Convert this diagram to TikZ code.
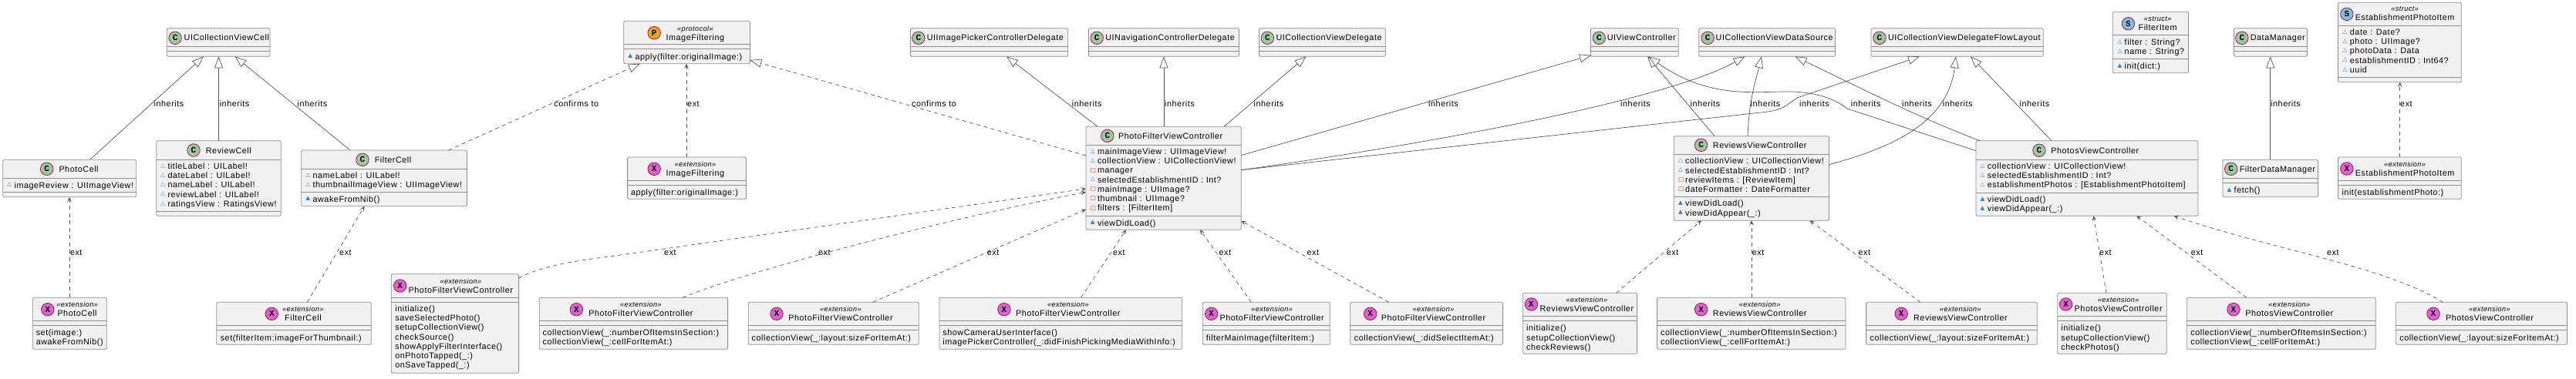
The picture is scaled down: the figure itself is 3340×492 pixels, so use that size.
\documentclass[tikz,border=0pt]{standalone}
\usepackage{fontspec}
\usepackage{xcolor}
\usetikzlibrary{arrows.meta,fit}
\setmainfont{Liberation Sans}[LetterSpace=5]
\newfontfamily\spotfont{Liberation Mono}
\newfontfamily\symfont{DejaVu Sans}
\definecolor{boxfill}{HTML}{F1F1F1}
\definecolor{boxline}{HTML}{8E8E8E}
\definecolor{spotline}{HTML}{A80036}
\definecolor{linkgray}{HTML}{555555}
\definecolor{fieldblue}{HTML}{3F7FBF}
\definecolor{privred}{HTML}{C82930}
\newcommand{\fieldmark}{\makebox[9.2pt][l]{\raisebox{2.2pt}{\textcolor{fieldblue}{\fontsize{7.5}{7.5}\symfont\bfseries △}}}}
\newcommand{\methodmark}{\makebox[9.2pt][l]{\raisebox{2.2pt}{\textcolor{fieldblue}{\fontsize{7.5}{7.5}\symfont\bfseries ▲}}}}
\newcommand{\privmark}{\makebox[9.2pt][l]{\raisebox{1.8pt}{\textcolor{privred}{\fontsize{7.5}{7.5}\symfont\bfseries □}}}}
\newcommand{\seprules}[3]{%
  \draw[seprule] ([yshift=-#2]#1.north west) -- ([yshift=-#2]#1.north east);
  \draw[seprule] ([yshift=-#3]#1.north west) -- ([yshift=-#3]#1.north east);}
\tikzset{
  umlbox/.style={draw=boxline,fill=boxfill,line width=0.8pt,rounded corners=1.5pt,inner sep=0pt,outer sep=0pt},
  seprule/.style={boxline,line width=0.9pt},
  spotnode/.style={circle,draw=spotline,line width=0.7pt,minimum size=16.5pt,inner sep=0pt,font=\fontsize{11}{11}\spotfont\bfseries},
  cspot/.style={spotnode,fill={rgb,255:red,156;green,200;blue,162}},
  xspot/.style={spotnode,fill={rgb,255:red,220;green,100;blue,208}},
  pspot/.style={spotnode,fill={rgb,255:red,232;green,168;blue,32}},
  sspot/.style={spotnode,fill={rgb,255:red,120;green,195;blue,225}},
  titletext/.style={anchor=base west,inner sep=0pt,font=\fontsize{10.8}{12.25}\selectfont},
  stereotext/.style={anchor=base,inner sep=0pt,font=\fontsize{9.1}{10}\selectfont\itshape},
  memberlist/.style={anchor=north west,align=left,inner sep=0pt,font=\fontsize{10.8}{12.25}\selectfont,execute at begin node=\strut},
  elabel/.style={anchor=base west,inner sep=0pt,font=\fontsize{10.8}{12.25}\selectfont},
  inh/.style={linkgray,line width=0.7pt,-{Triangle[length=15pt,width=11pt,fill=white]}},
  conf/.style={inh,dash pattern=on 5pt off 4.5pt},
  extlink/.style={linkgray,line width=0.7pt,dash pattern=on 5pt off 4.5pt,-{Stealth[length=6.5pt,width=5.8pt,inset=3pt]}},
}
\begin{document}
\begin{tikzpicture}[x=1pt,y=-1pt]
  \useasboundingbox (0,0) rectangle (3340,492);
  % base classes along the top
  \node[umlbox,fit={(216.3,36.7)(350,73.3)}] (cvCell) {};
  \node[umlbox,fit={(1180.5,36.7)(1384.8,73.3)}] (pickerDelegate) {};
  \node[umlbox,fit={(1411.4,36.7)(1606.5,73.3)}] (navDelegate) {};
  \node[umlbox,fit={(1632.5,36.7)(1796.3,73.3)}] (cvDelegate) {};
  \node[umlbox,fit={(2062.5,36.7)(2176.3,73.3)}] (viewCtrl) {};
  \node[umlbox,fit={(2202.8,36.7)(2379.5,73.3)}] (dataSource) {};
  \node[umlbox,fit={(2426,36.7)(2649.3,73.3)}] (flowLayout) {};
  \node[umlbox,fit={(2896.5,36.7)(2991.4,73.3)}] (dataMgr) {};
  \node[cspot] (cvCellS) at (227.1,49.3) {C};
  \node[cspot] (pickerDelegateS) at (1190.8,49.3) {C};
  \node[cspot] (navDelegateS) at (1422.2,49.3) {C};
  \node[cspot] (cvDelegateS) at (1643.4,49.3) {C};
  \node[cspot] (viewCtrlS) at (2073.3,49.3) {C};
  \node[cspot] (dataSourceS) at (2214.2,49.3) {C};
  \node[cspot] (flowLayoutS) at (2437,49.3) {C};
  \node[cspot] (dataMgrS) at (2906.8,49.3) {C};
  \node[titletext] (cvCellT) at (238.5,53) {UICollectionViewCell};
  \node[titletext] (pickerDelegateT) at (1201.6,53) {UIImagePickerControllerDelegate};
  \node[titletext] (navDelegateT) at (1433.1,53) {UINavigationControllerDelegate};
  \node[titletext] (cvDelegateT) at (1654.3,53) {UICollectionViewDelegate};
  \node[titletext] (viewCtrlT) at (2083.6,53) {UIViewController};
  \node[titletext] (dataSourceT) at (2224.5,53) {UICollectionViewDataSource};
  \node[titletext] (flowLayoutT) at (2447.8,53) {UICollectionViewDelegateFlowLayout};
  \node[titletext] (dataMgrT) at (2917.6,53) {DataManager};
  \seprules{cvCell}{24}{30}
  \seprules{pickerDelegate}{24}{30}
  \seprules{navDelegate}{24}{30}
  \seprules{cvDelegate}{24}{30}
  \seprules{viewCtrl}{24}{30}
  \seprules{dataSource}{24}{30}
  \seprules{flowLayout}{24}{30}
  \seprules{dataMgr}{24}{30}
  % cells
  \node[umlbox,fit={(3.8,207.3)(176.7,255.7)}] (photoCell) {};
  \node[cspot] (photoCellS) at (60.7,219.3) {C};
  \node[titletext] (photoCellT) at (76.3,223.3) {PhotoCell};
  \seprules{photoCell}{24}{42}
  \node[memberlist] (photoCellF) at (9.2,235.4) {\fieldmark imageReview : UIImageView!};
  \node[umlbox,fit={(202.7,182.7)(364.2,280.3)}] (reviewCell) {};
  \node[cspot] (reviewCellS) at (251,195) {C};
  \node[titletext] (reviewCellT) at (266.7,199) {ReviewCell};
  \seprules{reviewCell}{24.6}{91.3}
  \node[memberlist] (reviewCellF) at (208.1,211.4) {\fieldmark titleLabel : UILabel!\\\fieldmark dateLabel : UILabel!\\\fieldmark nameLabel : UILabel!\\\fieldmark reviewLabel : UILabel!\\\fieldmark ratingsView : RatingsView!};
  \node[umlbox,fit={(390.8,195)(605.4,267.7)}] (filterCell) {};
  \node[cspot] (filterCellS) at (470,207.3) {C};
  \node[titletext] (filterCellT) at (485.6,211.3) {FilterCell};
  \seprules{filterCell}{24}{54.3}
  \node[memberlist] (filterCellF) at (396.2,223.4) {\fieldmark nameLabel : UILabel!\\\fieldmark thumbnailImageView : UIImageView!};
  \node[memberlist] (filterCellM) at (396.2,253.4) {\methodmark awakeFromNib()};
  \node[umlbox,fit={(42.3,386.3)(138.2,453.3)}] (extPhotoCell) {};
  \node[xspot] (extPhotoCellS) at (61.8,401.7) {X};
  \node[titletext] (extPhotoCellT) at (74.3,410.7) {PhotoCell};
  \node[stereotext] (extPhotoCellE) at ([yshift=12]extPhotoCellT.base) {«extension»};
  \seprules{extPhotoCell}{30.4}{36}
  \node[memberlist] (extPhotoCellM) at (46.6,427.6) {set(image:)\\awakeFromNib()};
  \node[umlbox,fit={(280.8,392.3)(481.3,447.3)}] (extFilterCell) {};
  \node[xspot] (extFilterCellS) at (352.3,407.3) {X};
  \node[titletext] (extFilterCellT) at (369,416.7) {FilterCell};
  \node[stereotext] (extFilterCellE) at ([yshift=12]extFilterCellT.base) {«extension»};
  \seprules{extFilterCell}{30.4}{36}
  \node[memberlist] (extFilterCellM) at (285.6,433.4) {set(filterItem:imageForThumbnail:)};
  % image filtering
  \node[umlbox,fit={(808.7,27.3)(972.4,82.7)}] (imgFilter) {};
  \node[pspot] (imgFilterS) at (848.2,42.7) {P};
  \node[titletext] (imgFilterT) at (863.4,52.4) {ImageFiltering};
  \node[stereotext] (imgFilterE) at ([yshift=12]imgFilterT.base) {«protocol»};
  \seprules{imgFilter}{30}{36}
  \node[memberlist] (imgFilterM) at (814.1,68.4) {\methodmark apply(filter:originalImage:)};
  \node[umlbox,fit={(813.6,204)(967.5,258.3)}] (extImgFilter) {};
  \node[xspot] (extImgFilterS) at (848.2,219.3) {X};
  \node[titletext] (extImgFilterT) at (863.4,228.4) {ImageFiltering};
  \node[stereotext] (extImgFilterE) at ([yshift=12]extImgFilterT.base) {«extension»};
  \seprules{extImgFilter}{30.3}{36.3}
  \node[memberlist] (extImgFilterM) at (817.9,244.8) {apply(filter:originalImage:)};
  % photo filter view controller
  \node[umlbox,fit={(1408,164.3)(1609.2,298.3)}] (photoFilter) {};
  \node[cspot] (photoFilterS) at (1435.8,176.3) {C};
  \node[titletext] (photoFilterT) at (1449.9,180.3) {PhotoFilterViewController};
  \seprules{photoFilter}{24}{116}
  \node[memberlist] (photoFilterF) at (1413.6,192.4) {\fieldmark mainImageView : UIImageView!\\\fieldmark collectionView : UICollectionView!\\\privmark manager\\\fieldmark selectedEstablishmentID : Int?\\\privmark mainImage : UIImage?\\\privmark thumbnail : UIImage?\\\privmark filters : [FilterItem]};
  \node[memberlist] (photoFilterM) at (1413.6,284.4) {\methodmark viewDidLoad()};
  \node[umlbox,fit={(507.3,355.7)(672.6,484.3)}] (extPhotoFilterA) {};
  \node[xspot] (extPhotoFilterAS) at (518.7,371) {X};
  \node[titletext] (extPhotoFilterAT) at (529.5,380) {PhotoFilterViewController};
  \node[stereotext] (extPhotoFilterAE) at ([yshift=12]extPhotoFilterAT.base) {«extension»};
  \seprules{extPhotoFilterA}{31}{36.6}
  \node[memberlist] (extPhotoFilterAM) at (512.2,396.4) {initialize()\\saveSelectedPhoto()\\setupCollectionView()\\checkSource()\\showApplyFilterInterface()\\onPhotoTapped(\_:)\\onSaveTapped(\_:)};
  \node[umlbox,fit={(699.2,386.3)(943.6,453.3)}] (extPhotoFilterB) {};
  \node[xspot] (extPhotoFilterBS) at (747.4,401.7) {X};
  \node[titletext] (extPhotoFilterBT) at (763.1,410.7) {PhotoFilterViewController};
  \node[stereotext] (extPhotoFilterBE) at ([yshift=12]extPhotoFilterBT.base) {«extension»};
  \seprules{extPhotoFilterB}{30.4}{36}
  \node[memberlist] (extPhotoFilterBM) at (703.5,427.6) {collectionView(\_:numberOfItemsInSection:)\\collectionView(\_:cellForItemAt:)};
  \node[umlbox,fit={(970.2,392.3)(1191.3,447.3)}] (extPhotoFilterC) {};
  \node[xspot] (extPhotoFilterCS) at (1007,407.3) {X};
  \node[titletext] (extPhotoFilterCT) at (1022.2,416.7) {PhotoFilterViewController};
  \node[stereotext] (extPhotoFilterCE) at ([yshift=12]extPhotoFilterCT.base) {«extension»};
  \seprules{extPhotoFilterC}{30.4}{36}
  \node[memberlist] (extPhotoFilterCM) at (974.5,433.4) {collectionView(\_:layout:sizeForItemAt:)};
  \node[umlbox,fit={(1217.9,386.3)(1532.8,453.3)}] (extPhotoFilterD) {};
  \node[xspot] (extPhotoFilterDS) at (1301.9,401.7) {X};
  \node[titletext] (extPhotoFilterDT) at (1317,410.7) {PhotoFilterViewController};
  \node[stereotext] (extPhotoFilterDE) at ([yshift=12]extPhotoFilterDT.base) {«extension»};
  \seprules{extPhotoFilterD}{30.4}{36}
  \node[memberlist] (extPhotoFilterDM) at (1222.2,427.6) {showCameraUserInterface()\\imagePickerController(\_:didFinishPickingMediaWithInfo:)};
  \node[umlbox,fit={(1559.3,392.3)(1724.3,447.3)}] (extPhotoFilterE) {};
  \node[xspot] (extPhotoFilterES) at (1570.7,407.3) {X};
  \node[titletext] (extPhotoFilterET) at (1581.3,416.7) {PhotoFilterViewController};
  \node[stereotext] (extPhotoFilterEE) at ([yshift=12]extPhotoFilterET.base) {«extension»};
  \seprules{extPhotoFilterE}{30.4}{36}
  \node[memberlist] (extPhotoFilterEM) at (1563.7,433.4) {filterMainImage(filterItem:)};
  \node[umlbox,fit={(1750.7,392.3)(1948.6,447.3)}] (extPhotoFilterF) {};
  \node[xspot] (extPhotoFilterFS) at (1776.7,407.3) {X};
  \node[titletext] (extPhotoFilterFT) at (1790.7,416.7) {PhotoFilterViewController};
  \node[stereotext] (extPhotoFilterFE) at ([yshift=12]extPhotoFilterFT.base) {«extension»};
  \seprules{extPhotoFilterF}{30.4}{36}
  \node[memberlist] (extPhotoFilterFM) at (1755.7,433.4) {collectionView(\_:didSelectItemAt:)};
  % reviews view controller
  \node[umlbox,fit={(2170.3,176.7)(2371.4,286.3)}] (reviewsCtrl) {};
  \node[cspot] (reviewsCtrlS) at (2205.6,188.3) {C};
  \node[titletext] (reviewsCtrlT) at (2220.7,192.3) {ReviewsViewController};
  \seprules{reviewsCtrl}{24}{79}
  \node[memberlist] (reviewsCtrlF) at (2175.8,204.8) {\fieldmark collectionView : UICollectionView!\\\fieldmark selectedEstablishmentID : Int?\\\privmark reviewItems : [ReviewItem]\\\privmark dateFormatter : DateFormatter};
  \node[memberlist] (reviewsCtrlM) at (2175.8,259.8) {\methodmark viewDidLoad()\\\methodmark viewDidAppear(\_:)};
  \node[umlbox,fit={(1974.7,380.3)(2122.6,459.3)}] (extReviewsA) {};
  \node[xspot] (extReviewsAS) at (1985.5,395) {X};
  \node[titletext] (extReviewsAT) at (1996.3,404.7) {ReviewsViewController};
  \node[stereotext] (extReviewsAE) at ([yshift=12]extReviewsAT.base) {«extension»};
  \seprules{extReviewsA}{30.4}{36.4}
  \node[memberlist] (extReviewsAM) at (1979,421.8) {initialize()\\setupCollectionView()\\checkReviews()};
  \node[umlbox,fit={(2148.6,386.3)(2393,453.3)}] (extReviewsB) {};
  \node[xspot] (extReviewsBS) at (2205.6,401.7) {X};
  \node[titletext] (extReviewsBT) at (2220.7,410.7) {ReviewsViewController};
  \node[stereotext] (extReviewsBE) at ([yshift=12]extReviewsBT.base) {«extension»};
  \seprules{extReviewsB}{30.4}{36}
  \node[memberlist] (extReviewsBM) at (2153,427.6) {collectionView(\_:numberOfItemsInSection:)\\collectionView(\_:cellForItemAt:)};
  \node[umlbox,fit={(2419.6,392.3)(2641.2,447.3)}] (extReviewsC) {};
  \node[xspot] (extReviewsCS) at (2465.2,407.3) {X};
  \node[titletext] (extReviewsCT) at (2480.9,416.7) {ReviewsViewController};
  \node[stereotext] (extReviewsCE) at ([yshift=12]extReviewsCT.base) {«extension»};
  \seprules{extReviewsC}{30.4}{36}
  \node[memberlist] (extReviewsCM) at (2424.5,433.4) {collectionView(\_:layout:sizeForItemAt:)};
  % photos view controller
  \node[umlbox,fit={(2562,182.7)(2849.9,280.3)}] (photosCtrl) {};
  \node[cspot] (photosCtrlS) at (2643.9,195.3) {C};
  \node[titletext] (photosCtrlT) at (2659.1,199.3) {PhotosViewController};
  \seprules{photosCtrl}{24.6}{67.3}
  \node[memberlist] (photosCtrlF) at (2567.5,211.4) {\fieldmark collectionView : UICollectionView!\\\fieldmark selectedEstablishmentID : Int?\\\fieldmark establishmentPhotos : [EstablishmentPhotoItem]};
  \node[memberlist] (photosCtrlM) at (2567.5,254.4) {\methodmark viewDidLoad()\\\methodmark viewDidAppear(\_:)};
  \node[umlbox,fit={(2667.8,380.3)(2809.2,459.3)}] (extPhotosA) {};
  \node[xspot] (extPhotosAS) at (2678.6,395) {X};
  \node[titletext] (extPhotosAT) at (2689.5,404.7) {PhotosViewController};
  \node[stereotext] (extPhotosAE) at ([yshift=12]extPhotosAT.base) {«extension»};
  \seprules{extPhotosA}{30.4}{36.4}
  \node[memberlist] (extPhotosAM) at (2672.1,421.8) {initialize()\\setupCollectionView()\\checkPhotos()};
  \node[umlbox,fit={(2835.3,386.3)(3080.2,453.3)}] (extPhotosB) {};
  \node[xspot] (extPhotosBS) at (2896,401.7) {X};
  \node[titletext] (extPhotosBT) at (2911.1,410.7) {PhotosViewController};
  \node[stereotext] (extPhotosBE) at ([yshift=12]extPhotosBT.base) {«extension»};
  \seprules{extPhotosB}{30.4}{36}
  \node[memberlist] (extPhotosBM) at (2840.1,427.6) {collectionView(\_:numberOfItemsInSection:)\\collectionView(\_:cellForItemAt:)};
  \node[umlbox,fit={(3106.3,392.3)(3328.5,447.3)}] (extPhotosC) {};
  \node[xspot] (extPhotosCS) at (3155,407.3) {X};
  \node[titletext] (extPhotosCT) at (3170.8,416.7) {PhotosViewController};
  \node[stereotext] (extPhotosCE) at ([yshift=12]extPhotosCT.base) {«extension»};
  \seprules{extPhotosC}{30.4}{36}
  \node[memberlist] (extPhotosCM) at (3111.1,433.4) {collectionView(\_:layout:sizeForItemAt:)};
  % structs and data manager
  \node[umlbox,fit={(2739.3,15.3)(2837.4,94.7)}] (filterItem) {};
  \node[sspot] (filterItemS) at (2759.4,30.7) {S};
  \node[titletext] (filterItemT) at (2772.4,40) {FilterItem};
  \node[stereotext] (filterItemE) at ([yshift=12]filterItemT.base) {«struct»};
  \seprules{filterItem}{30}{61}
  \node[memberlist] (filterItemF) at (2745.3,50.4) {\fieldmark filter : String?\\\fieldmark name : String?};
  \node[memberlist] (filterItemM) at (2745.3,80.7) {\methodmark init(dict:)};
  \node[umlbox,fit={(2881.9,207.3)(3005.4,255.7)}] (filterMgr) {};
  \node[cspot] (filterMgrS) at (2892.7,219.3) {C};
  \node[titletext] (filterMgrT) at (2903.6,223.3) {FilterDataManager};
  \seprules{filterMgr}{24}{30}
  \node[memberlist] (filterMgrM) at (2887.3,241.8) {\methodmark fetch()};
  \node[umlbox,fit={(3031.5,3.3)(3191.3,106.7)}] (estItem) {};
  \node[sspot] (estItemS) at (3042.8,18.3) {S};
  \node[titletext] (estItemT) at (3053.7,27) {EstablishmentPhotoItem};
  \node[stereotext] (estItemE) at ([yshift=12]estItemT.base) {«struct»};
  \seprules{estItem}{30}{97.4}
  \node[memberlist] (estItemF) at (3037.5,37.4) {\fieldmark date : Date?\\\fieldmark photo : UIImage?\\\fieldmark photoData : Data\\\fieldmark establishmentID : Int64?\\\fieldmark uuid};
  \node[umlbox,fit={(3031.5,204)(3191.3,258.3)}] (extEstItem) {};
  \node[xspot] (extEstItemS) at (3042.8,219) {X};
  \node[titletext] (extEstItemT) at (3053.7,228.4) {EstablishmentPhotoItem};
  \node[stereotext] (extEstItemE) at ([yshift=12]extEstItemT.base) {«extension»};
  \seprules{extEstItem}{30.3}{36.3}
  \node[memberlist] (extEstItemM) at (3036.3,244.8) {init(establishmentPhoto:)};
  % inherits
  \draw[inh] ([xshift=112.7]photoCell.north west) -- ([xshift=47.7]cvCell.south west);
  \draw[inh] ([xshift=80.8]reviewCell.north west) -- ([xshift=67.2]cvCell.south west);
  \draw[inh] ([xshift=63.2]filterCell.north west) -- ([xshift=88.2]cvCell.south west);
  \draw[inh] ([xshift=15]photoFilter.north west) -- ([xshift=124.5]pickerDelegate.south west);
  \draw[inh] ([xshift=101]photoFilter.north west) -- ([xshift=97.6]navDelegate.south west);
  \draw[inh] ([xshift=179]photoFilter.north west) -- ([xshift=60.9]cvDelegate.south west);
  \draw[inh] ([yshift=-37.4]photoFilter.north east) -- ([xshift=0.5,yshift=1.6]viewCtrl.south west);
  \draw[inh] ([yshift=-56.4]photoFilter.north east) .. controls (1900,180) and (2170,125) .. ([xshift=59.7]dataSource.south west);
  \draw[inh] ([yshift=-56.4]photoFilter.north east) -- (2292,145) .. controls (2312,142) and (2316,137) .. (2330,127) -- ([xshift=63]flowLayout.south west);
  \draw[inh] ([xshift=52.7]reviewsCtrl.north west) -- ([xshift=73.5]viewCtrl.south west);
  \draw[inh] ([xshift=95.7]reviewsCtrl.north west) .. controls (2268,130) and (2275,110) .. ([xshift=81.2]dataSource.south west);
  \draw[inh] ([yshift=-37]reviewsCtrl.north east) .. controls (2440,195) and (2525,165) .. ([xshift=110]flowLayout.south west);
  \draw[inh] ([yshift=-13]photosCtrl.north west) -- (2395,141) .. controls (2375,125) and (2345,118) .. (2310,119) .. controls (2265,120) and (2210,125) .. ([xshift=75]viewCtrl.south west);
  \draw[inh] ([xshift=5]photosCtrl.north west) .. controls (2490,153) and (2440,128) .. ([xshift=124.7]dataSource.south west);
  \draw[inh] ([xshift=98]photosCtrl.north west) -- ([xshift=129]flowLayout.south west);
  \draw[inh] ([xshift=61.8]filterMgr.north west) -- ([xshift=47.2]dataMgr.south west);
  % confirms to
  \draw[conf] ([xshift=190.7]filterCell.north west) -- ([xshift=21.3]imgFilter.south west);
  \draw[conf] ([yshift=-37.7]photoFilter.north west) -- ([yshift=4.7]imgFilter.south east);
  % extensions
  \draw[extlink] ([xshift=47.7]extPhotoCell.north west) -- ([xshift=86.2]photoCell.south west);
  \draw[extlink] ([xshift=117.6]extFilterCell.north west) -- ([xshift=81.8]filterCell.south west);
  \draw[extlink] ([xshift=76.4]extImgFilter.north west) -- ([xshift=81.3]imgFilter.south west);
  \draw[extlink] ([yshift=-5.3]extPhotoFilterA.north east) .. controls (705,343) and (760,337) .. (800,331.7) -- ([yshift=-80.7]photoFilter.north west);
  \draw[extlink] ([xshift=185.8]extPhotoFilterB.north west) .. controls (960,355) and (1200,290) .. ([yshift=-85]photoFilter.north west);
  \draw[extlink] ([xshift=161.5]extPhotoFilterC.north west) -- ([yshift=-107.4]photoFilter.north west);
  \draw[extlink] ([xshift=183.7]extPhotoFilterD.north west) -- ([xshift=52]photoFilter.south west);
  \draw[extlink] ([xshift=63]extPhotoFilterE.north west) -- ([xshift=148]photoFilter.south west);
  \draw[extlink] ([xshift=50]extPhotoFilterF.north west) -- ([yshift=11.6]photoFilter.south east);
  \draw[extlink] ([xshift=120.8]extReviewsA.north west) -- ([xshift=35.7]reviewsCtrl.south west);
  \draw[extlink] ([xshift=122.4]extReviewsB.north west) -- ([xshift=100.7]reviewsCtrl.south west);
  \draw[extlink] ([xshift=70.4]extReviewsC.north west) -- ([xshift=176.2]reviewsCtrl.south west);
  \draw[extlink] ([xshift=63.2]extPhotosA.north west) -- ([xshift=152.4]photosCtrl.south west);
  \draw[extlink] ([xshift=77.5]extPhotosB.north west) -- ([xshift=208.2]photosCtrl.south west);
  \draw[extlink] ([xshift=61.2]extPhotosC.north west) .. controls (3090,345) and (2950,325) .. ([xshift=256.5]photosCtrl.south west);
  \draw[extlink] ([xshift=80.2]extEstItem.north west) -- ([xshift=80.2]estItem.south west);
  % connector labels
  \node[elabel] (lblA) at (199.5,139) {inherits};
  \node[elabel] (lblB) at (284.6,139) {inherits};
  \node[elabel] (lblC) at (385.4,139) {inherits};
  \node[elabel] (lblD) at (718.2,139) {confirms to};
  \node[elabel] (lblE) at (891,139) {ext};
  \node[elabel] (lblF) at (1182,139) {confirms to};
  \node[elabel] (lblG) at (1389.7,139) {inherits};
  \node[elabel] (lblH) at (1510,139) {inherits};
  \node[elabel] (lblI) at (1625.5,139) {inherits};
  \node[elabel] (lblJ) at (1852,139) {inherits};
  \node[elabel] (lblK) at (2101,139) {inherits};
  \node[elabel] (lblL) at (2191.5,139) {inherits};
  \node[elabel] (lblM) at (2269.5,139) {inherits};
  \node[elabel] (lblN) at (2333,139) {inherits};
  \node[elabel] (lblO) at (2399.6,139) {inherits};
  \node[elabel] (lblP) at (2466,139) {inherits};
  \node[elabel] (lblQ) at (2518.7,139) {inherits};
  \node[elabel] (lblR) at (2618.4,139) {inherits};
  \node[elabel] (lblS) at (2944,139) {inherits};
  \node[elabel] (lblT) at (3112,139) {ext};
  \node[elabel] (lblU) at (90.8,331) {ext};
  \node[elabel] (lblV) at (440,331) {ext};
  \node[elabel] (lblW) at (861,331) {ext};
  \node[elabel] (lblX) at (1061,331) {ext};
  \node[elabel] (lblY) at (1279.7,331) {ext};
  \node[elabel] (lblZ) at (1442.8,331) {ext};
  \node[elabel] (lblAA) at (1580.3,331) {ext};
  \node[elabel] (lblAB) at (1694.3,331) {ext};
  \node[elabel] (lblAC) at (2160.6,331) {ext};
  \node[elabel] (lblAD) at (2271.7,331) {ext};
  \node[elabel] (lblAE) at (2409.3,331) {ext};
  \node[elabel] (lblAF) at (2722,331) {ext};
  \node[elabel] (lblAG) at (2840.7,331) {ext};
  \node[elabel] (lblAH) at (3016.8,331) {ext};
\end{tikzpicture}
\end{document}
